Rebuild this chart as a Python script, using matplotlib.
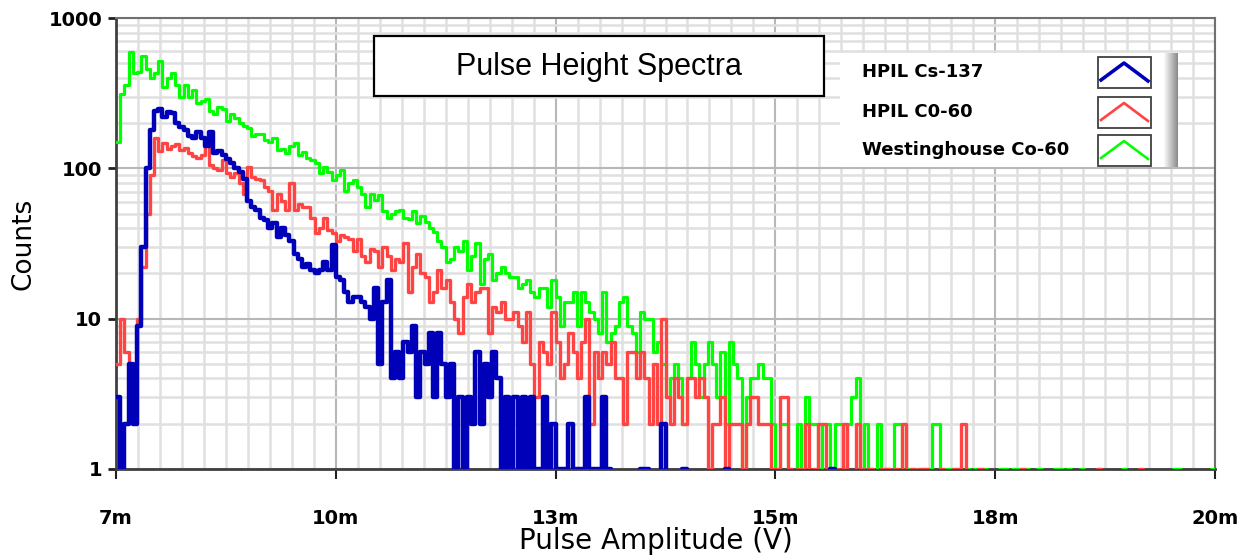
import matplotlib.pyplot as plt
import numpy as np
from matplotlib.patches import Rectangle
from matplotlib.lines import Line2D
from matplotlib.ticker import FixedLocator, LogLocator, NullFormatter

# channel layout of the spectra (mV)
x_start = 7.0
bin_width = 0.05

x_ticks = [7.0, 9.6, 12.2, 14.8, 17.4, 20.0]
x_tick_labels = ["7m", "10m", "13m", "15m", "18m", "20m"]
y_ticks = [1, 10, 100, 1000]
y_tick_labels = ["1", "10", "100", "1000"]

series_names = ["HPIL Cs-137", "HPIL C0-60", "Westinghouse Co-60"]
series_colors = ["#0000b8", "#ff4444", "#00ff00"]
series_widths = [3.2, 2.4, 2.3]

# counts per channel
hpil_cs137 = [
    3, 1, 2, 5, 2, 9, 30, 100, 180, 240,
    248, 220, 237, 235, 200, 188, 180, 165, 160, 175,
    160, 140, 175, 126, 130, 122, 116, 108, 100, 95,
    85, 61, 55, 53, 47, 45, 40, 43, 35, 40,
    36, 33, 27, 25, 22, 23, 21, 20, 21, 24,
    21, 31, 19, 18, 15, 13, 14, 14, 13, 12,
    10, 16, 5, 13, 18, 4, 6, 4, 7, 6,
    9, 3, 6, 5, 8, 3, 8, 5, 3, 5,
    1, 3, 1, 3, 2, 6, 2, 5, 3, 6,
    4, 1, 3, 1, 3, 1, 3, 1, 3, 1,
    1, 3, 1, 2, 1, 1, 1, 2, 1, 1,
    1, 3, 1, 1, 1, 3, 1, 0, 0, 0,
    0, 0, 0, 0, 1, 1, 0, 0, 0, 2,
    0, 0, 0, 0, 1, 0, 0, 0, 0, 0,
    0, 0, 0, 0, 1, 0, 0, 0, 0, 0,
    0, 0, 0, 0, 0, 0, 0, 0, 0, 0,
    0, 0, 0, 0, 0, 0, 0, 0, 0, 1,
    0, 0, 0, 0, 0, 0, 0, 0, 0, 0,
    0, 0, 0, 0, 0, 0, 0, 0, 0, 0,
    0, 0, 0, 0, 0, 0, 0, 0, 0, 0,
    0, 0, 0, 0, 0, 0, 0, 0, 0, 0,
    0, 0, 0, 0, 0, 0, 0, 0, 0, 0,
    0, 0, 0, 0, 0, 0, 0, 0, 0, 0,
    0, 0, 0, 0, 0, 0, 0, 0, 0, 0,
    0, 0, 0, 0, 0, 0, 0, 0, 0, 0,
    0, 0, 0, 0, 0, 0, 0, 0, 0, 0,
]

hpil_co60 = [
    5, 10, 6, 3, 5, 10, 22, 50, 90, 160,
    130, 147, 135, 140, 145, 132, 137, 126, 120, 118,
    122, 154, 105, 100, 97, 113, 93, 87, 93, 80,
    68, 102, 87, 85, 83, 75, 71, 53, 68, 61,
    53, 80, 53, 58, 55, 55, 47, 37, 40, 47,
    39, 37, 33, 36, 35, 34, 28, 34, 26, 24,
    29, 28, 22, 30, 26, 21, 25, 24, 32, 15,
    22, 27, 20, 19, 13, 15, 21, 16, 18, 13,
    10, 8, 14, 17, 13, 15, 16, 16, 8, 12,
    11, 13, 10, 10, 11, 9, 7, 11, 5, 3,
    7, 6, 5, 11, 7, 4, 5, 8, 6, 4,
    7, 10, 2, 6, 4, 6, 5, 7, 4, 4,
    2, 6, 6, 4, 6, 4, 2, 5, 2, 10,
    3, 2, 4, 3, 2, 4, 4, 3, 4, 3,
    1, 2, 2, 3, 1, 2, 2, 2, 1, 2,
    3, 3, 2, 2, 2, 1, 1, 3, 3, 1,
    0, 1, 0, 2, 0, 1, 2, 2, 0, 0,
    1, 0, 2, 0, 0, 2, 1, 0, 1, 0,
    0, 1, 1, 0, 1, 0, 2, 0, 1, 0,
    1, 1, 0, 0, 0, 1, 0, 0, 1, 1,
    2, 0, 0, 0, 1, 0, 0, 0, 0, 0,
    0, 0, 0, 0, 1, 0, 0, 0, 0, 0,
    0, 0, 0, 0, 0, 0, 0, 0, 0, 0,
    0, 0, 1, 0, 0, 0, 0, 0, 0, 0,
    0, 0, 1, 0, 0, 0, 0, 0, 0, 0,
    0, 0, 0, 0, 0, 0, 0, 0, 0, 0,
]

westinghouse_co60 = [
    150, 310, 360, 590, 430, 440, 560, 460, 400, 430,
    520, 350, 400, 430, 360, 300, 360, 300, 330, 270,
    280, 290, 240, 230, 255, 250, 208, 230, 215, 200,
    190, 185, 165, 170, 168, 154, 150, 160, 132, 135,
    126, 140, 147, 122, 128, 118, 113, 108, 93, 102,
    95, 83, 90, 97, 71, 80, 83, 75, 68, 55,
    68, 62, 66, 52, 47, 50, 52, 53, 47, 46,
    52, 43, 48, 44, 40, 38, 33, 30, 24, 25,
    30, 28, 33, 21, 26, 32, 17, 25, 27, 18,
    20, 22, 20, 19, 19, 16, 17, 18, 15, 14,
    16, 16, 12, 18, 14, 9, 13, 13, 15, 9,
    15, 13, 11, 10, 8, 15, 7, 8, 9, 13,
    14, 9, 8, 6, 11, 10, 10, 6, 7, 5,
    3, 4, 5, 4, 2, 4, 7, 5, 3, 5,
    7, 5, 3, 6, 2, 7, 5, 4, 1, 3,
    4, 4, 5, 4, 4, 2, 1, 2, 2, 1,
    0, 2, 1, 3, 2, 2, 1, 2, 2, 0,
    2, 2, 1, 2, 3, 4, 1, 2, 1, 0,
    2, 0, 1, 0, 2, 2, 0, 1, 0, 1,
    0, 0, 1, 2, 2, 0, 1, 1, 0, 0,
    0, 1, 0, 1, 0, 1, 0, 0, 0, 1,
    1, 0, 1, 1, 0, 1, 0, 0, 1, 0,
    0, 0, 1, 1, 0, 1, 0, 0, 1, 0,
    0, 0, 0, 0, 0, 0, 0, 0, 1, 0,
    0, 0, 0, 0, 0, 0, 0, 0, 0, 0,
    1, 1, 0, 0, 0, 0, 0, 0, 0, 1,
]

W, H = 1241, 555


def px(x, y):
    # pixel position (from top-left) -> figure fraction
    return x / W, 1 - y / H


fig = plt.figure(figsize=(W / 100, H / 100), dpi=100)
ax = fig.add_axes([116 / W, 1 - 469 / H, (1215 - 116) / W, (469 - 18) / H])
ax.set_yscale("log")

# green first so that red and blue sit on top of it
all_series = [hpil_cs137, hpil_co60, westinghouse_co60]
for k in [2, 1, 0]:
    counts = np.array(all_series[k], dtype=float)
    edges = x_start + bin_width * np.arange(len(counts) + 1)
    ax.plot(edges, np.append(counts, counts[-1]), drawstyle="steps-post",
            color=series_colors[k], lw=series_widths[k], zorder=3 + (2 - k))

ax.set_xlim(x_ticks[0], x_ticks[-1])
ax.set_ylim(y_ticks[0], y_ticks[-1])

# grid: 10 minor divisions per major x division, 2..9 per decade on y
ax.set_xticks(x_ticks)
ax.set_xticklabels(x_tick_labels, fontweight="bold", fontsize=14)
ax.xaxis.set_minor_locator(FixedLocator(np.linspace(x_ticks[0], x_ticks[-1], 51)))
ax.set_yticks(y_ticks)
ax.set_yticklabels(y_tick_labels, fontweight="bold", fontsize=14)
ax.yaxis.set_minor_locator(LogLocator(base=10, subs=np.arange(2, 10)))
ax.yaxis.set_minor_formatter(NullFormatter())

ax.grid(which="minor", color="#e0e0e0", lw=1.8, zorder=0)
ax.grid(which="major", color="#b8b8b8", lw=1.5, zorder=0)
ax.set_axisbelow(True)

ax.tick_params(which="minor", length=0)
ax.tick_params(axis="x", which="major", direction="out", length=7, width=1.5,
               color="#202020", pad=22)
ax.tick_params(axis="y", which="major", direction="out", length=6, width=2,
               color="#202020", pad=4)

for side in ["left", "bottom"]:
    ax.spines[side].set_color("#404040")
    ax.spines[side].set_linewidth(2)
for side in ["top", "right"]:
    ax.spines[side].set_color("#707070")
    ax.spines[side].set_linewidth(1.5)

fig.text(*px(24, 244), "Counts", fontsize=19, rotation=90, ha="center", va="center")
fig.text(*px(656, 541), "Pulse Amplitude (V)", fontsize=20, ha="center", va="center")

# title box
x0, y0 = px(374, 96)
x1, y1 = px(824, 36)
fig.add_artist(Rectangle((x0, y0), x1 - x0, y1 - y0, transform=fig.transFigure,
                         facecolor="white", edgecolor="black", lw=1.6, zorder=5))
fig.text(*px(599, 67), "Pulse Height Spectra", fontsize=22, family="Liberation Sans",
         ha="center", va="center", zorder=6)

# legend panel with shaded right edge
x0, y0 = px(840, 167)
x1, y1 = px(1164, 53)
fig.add_artist(Rectangle((x0, y0), x1 - x0, y1 - y0, transform=fig.transFigure,
                         facecolor="white", edgecolor="none", zorder=5))
shades = np.linspace(0.97, 0.55, 14)
for j, g in enumerate(shades):
    a, b = px(1164 + j, 167)
    fig.add_artist(Rectangle((a, b), 1.2 / W, 114 / H, transform=fig.transFigure,
                             facecolor=(g, g, g), edgecolor="none", zorder=5))

box_tops = [57, 97, 135]
for k, name in enumerate(series_names):
    top = box_tops[k]
    fig.text(*px(862, top + 15), name, fontsize=13, fontweight="bold",
             ha="left", va="center", zorder=6)
    bx0, by0 = px(1098, top + 31)
    bx1, by1 = px(1151, top)
    fig.add_artist(Rectangle((bx0, by0), bx1 - bx0, by1 - by0, transform=fig.transFigure,
                             facecolor="white", edgecolor="#404040", lw=1.3, zorder=6))
    p1, p2, p3 = px(1101, top + 23), px(1124, top + 6), px(1148, top + 24)
    fig.add_artist(Line2D([p1[0], p2[0], p3[0]], [p1[1], p2[1], p3[1]],
                          transform=fig.transFigure, color=series_colors[k],
                          lw=series_widths[k] * 0.8, zorder=7))

fig.savefig("out.png", dpi=100)
